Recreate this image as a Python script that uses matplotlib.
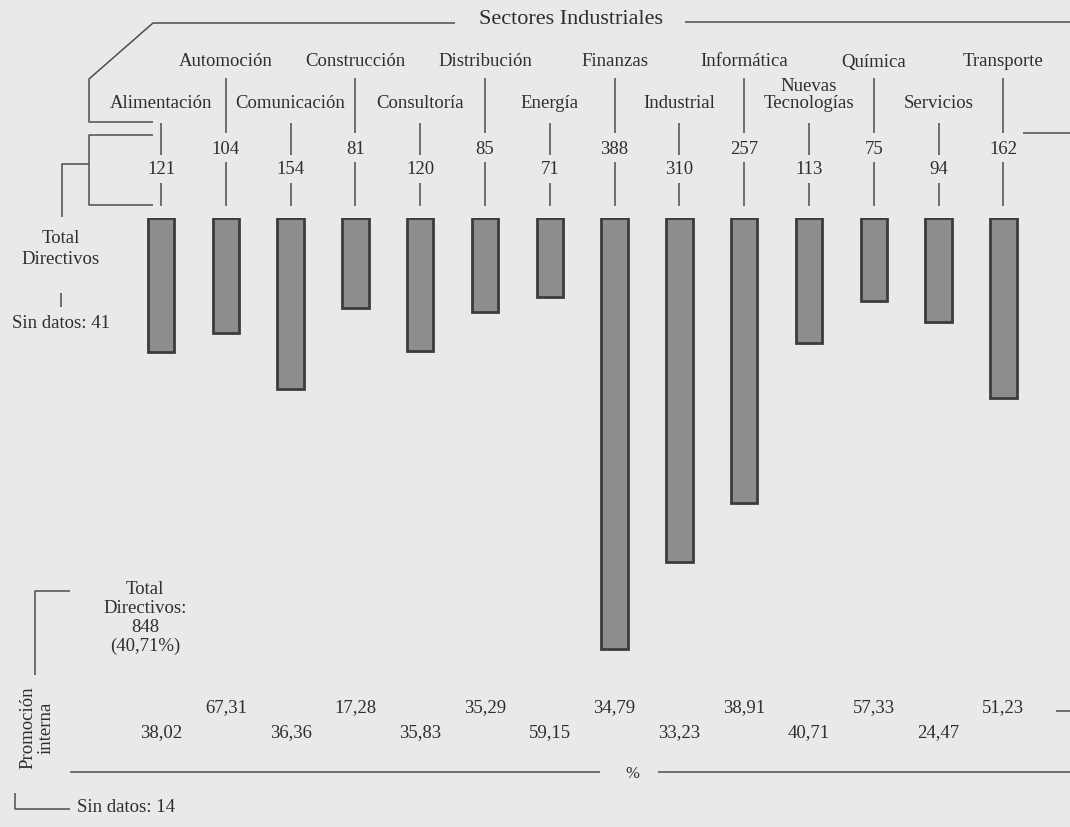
import numpy as np
import matplotlib
matplotlib.use("Agg")
import matplotlib.pyplot as plt

# datos: directivos por sector y % de promocion interna
sectores = ["Alimentación", "Automoción", "Comunicación", "Construcción",
            "Consultoría", "Distribución", "Energía", "Finanzas", "Industrial",
            "Informática", "Nuevas\nTecnologías", "Química", "Servicios", "Transporte"]
directivos = [121, 104, 154, 81, 120, 85, 71, 388, 310, 257, 113, 75, 94, 162]
promocion = ["38,02", "67,31", "36,36", "17,28", "35,83", "35,29", "59,15",
             "34,79", "33,23", "38,91", "40,71", "57,33", "24,47", "51,23"]

W, H = 1070, 827
BG = "#e9e9e9"
TXT = "#2e2e2e"
LN = "#4d4d4d"
FS = 13.5
plt.rcParams["font.family"] = ["Liberation Serif", "DejaVu Serif"]

fig = plt.figure(figsize=(W / 100, H / 100), dpi=100, facecolor=BG)

# capa de anotaciones en pixeles
ax = fig.add_axes([0, 0, 1, 1])
ax.set_xlim(0, W)
ax.set_ylim(H, 0)
ax.axis("off")
ax.set_facecolor(BG)

# barras: eje en unidades de directivos
X0, STEP = 161, 64.8
TOP, K = 218, 1.11
n = len(sectores)
left = (X0 - STEP / 2) / W
width = n * STEP / W
ymax = 400
bax = fig.add_axes([left, 1 - (TOP + ymax * K) / H, width, ymax * K / H])
bax.patch.set_alpha(0)
bax.axis("off")
bax.set_xlim(-0.5, n - 0.5)
bax.set_ylim(ymax, 0)
bax.bar(np.arange(n), directivos, width=0.41, bottom=0, align="center",
        color="#8d8d8d", edgecolor="#3c3c3c", linewidth=2.0)

def line(xs, ys, lw=1.1):
    ax.plot(xs, ys, color=LN, lw=lw, solid_capstyle="butt")

xs = X0 + STEP * np.arange(n)
for i, (s, v, p) in enumerate(zip(sectores, directivos, promocion)):
    x = xs[i]
    if i % 2 == 1:
        ax.text(x, 62, s, ha="center", va="center", fontsize=FS, color=TXT)
        line([x, x], [78, 133])
        ax.text(x, 149, str(v), ha="center", va="center", fontsize=FS, color=TXT)
        line([x, x], [162, 206])
        ax.text(x, 708, p, ha="center", va="center", fontsize=FS, color=TXT)
    else:
        ax.text(x, 95 if "\n" in s else 104, s, ha="center", va="center",
                fontsize=FS, color=TXT, linespacing=0.95)
        line([x, x], [123, 155])
        ax.text(x, 170, str(v), ha="center", va="center", fontsize=FS, color=TXT)
        line([x, x], [183, 206])
        ax.text(x, 733, p, ha="center", va="center", fontsize=FS, color=TXT)

# titulo superior y llaves
ax.text(571, 20, "Sectores Industriales", ha="center", va="center",
        fontsize=16, color=TXT)
line([455, 153, 89, 89, 153], [23, 23, 79, 122, 122])
line([685, W], [22, 22])
line([153, 89, 89, 153], [135, 135, 205, 205])
line([89, 62, 62], [164, 164, 217])
line([1023, W], [133, 133])

ax.text(61, 249, "Total\nDirectivos", ha="center", va="center",
        fontsize=FS, color=TXT, linespacing=1.25)
line([61, 61], [293, 307])
ax.text(61, 323, "Sin datos: 41", ha="center", va="center", fontsize=FS, color=TXT)

# parte inferior
ax.text(145, 618, "Total\nDirectivos:\n848\n(40,71%)", ha="center", va="center",
        fontsize=FS, color=TXT, linespacing=1.12)
line([70, 35, 35], [591, 591, 675])
ax.text(37, 728, "Promoción\ninterna", ha="center", va="center", rotation=90,
        fontsize=FS, color=TXT, linespacing=1.1)
line([15, 15, 70], [793, 809, 809])
ax.text(77, 808, "Sin datos: 14", ha="left", va="center", fontsize=FS, color=TXT)

line([70, 600], [772, 772])
ax.text(632, 774, "%", ha="center", va="center", fontsize=12, color=TXT)
line([658, W], [772, 772])
line([1056, W], [711, 711])

fig.savefig("out.png", dpi=100, facecolor=BG)
